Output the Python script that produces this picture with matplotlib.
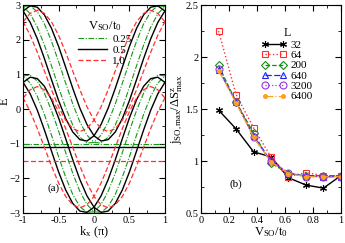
import matplotlib
matplotlib.use("Agg")
import matplotlib.pyplot as plt
import numpy as np

plt.rcParams['font.family'] = ['Liberation Serif', 'DejaVu Serif']
plt.rcParams['mathtext.fontset'] = 'custom'
plt.rcParams['mathtext.rm'] = 'Liberation Serif'
plt.rcParams['mathtext.it'] = 'Liberation Serif'

# ---- panel (a): bands, read at k = -1 ... 1 step 0.1 (branch with minimum at k > 0)
k = [-1.0, -0.9, -0.8, -0.7, -0.6, -0.5, -0.4, -0.3, -0.2, -0.1, 0.0,
     0.1, 0.2, 0.3, 0.4, 0.5, 0.6, 0.7, 0.8, 0.9, 1.0]

vso_labels = ['0.25', '0.5', '1.0']
band_up_025 = [2.96, 2.98, 2.81, 2.46, 1.96, 1.37, 0.75, 0.15, -0.37, -0.75, -0.96,
               -0.98, -0.81, -0.46, 0.04, 0.63, 1.25, 1.85, 2.37, 2.75, 2.96]
band_lo_025 = [0.96, 0.98, 0.81, 0.46, -0.04, -0.63, -1.25, -1.85, -2.37, -2.75, -2.96,
               -2.98, -2.81, -2.46, -1.96, -1.37, -0.75, -0.15, 0.37, 0.75, 0.96]
band_up_05 = [2.83, 2.98, 2.94, 2.72, 2.33, 1.81, 1.21, 0.60, 0.03, -0.44, -0.77,
              -0.92, -0.88, -0.66, -0.27, 0.25, 0.85, 1.46, 2.03, 2.50, 2.83]
band_lo_05 = [0.77, 0.92, 0.88, 0.66, 0.27, -0.25, -0.85, -1.46, -2.03, -2.50, -2.83,
              -2.98, -2.94, -2.72, -2.33, -1.81, -1.21, -0.60, -0.03, 0.44, 0.77]
band_up_10 = [2.52, 2.76, 2.85, 2.76, 2.52, 2.13, 1.64, 1.10, 0.56, 0.07, -0.32,
              -0.56, -0.65, -0.56, -0.32, 0.07, 0.56, 1.10, 1.64, 2.13, 2.52]
band_lo_10 = [0.32, 0.56, 0.65, 0.56, 0.32, -0.07, -0.56, -1.10, -1.64, -2.13, -2.52,
              -2.76, -2.85, -2.76, -2.52, -2.13, -1.64, -1.10, -0.56, -0.07, 0.32]
mu_levels = [-1.0, -1.1, -1.5]

# ---- panel (b)
vso = [0.125, 0.25, 0.375, 0.5, 0.625, 0.75, 0.875, 1.0]
sizes = ['32', '64', '200', '640', '3200', '6400']
j_32 = [1.49, 1.31, 1.09, 1.04, 0.84, 0.77, 0.74, 0.86]
j_64 = [2.25, 1.64, 1.32, 1.04, 0.85, 0.89, 0.86, 0.86]
j_200 = [1.92, 1.57, 1.27, 0.98, 0.88, 0.86, 0.86, 0.86]
j_640 = [1.88, 1.57, 1.24, 1.00, 0.88, 0.86, 0.85, 0.85]
j_3200 = [1.89, 1.57, 1.23, 1.00, 0.89, 0.85, 0.85, 0.85]
j_6400 = [1.87, 1.56, 1.23, 0.99, 0.88, 0.85, 0.85, 0.85]

fig = plt.figure(figsize=(3.45, 2.43), dpi=100)
ax1 = fig.add_axes([0.067, 0.123, 0.411, 0.856])
ax2 = fig.add_axes([0.583, 0.123, 0.405, 0.856])

band_sets = [(band_up_025, band_lo_025), (band_up_05, band_lo_05), (band_up_10, band_lo_10)]
styles = [dict(color='#119911', ls=(0, (5, 1.5, 1, 1.5)), lw=0.8),
          dict(color='black', ls='-', lw=1.0),
          dict(color='#ff3030', ls=(0, (4, 2)), lw=0.9)]

kk = np.array(k)
for (up, lo), st, lab, mu in zip(band_sets, styles, vso_labels, mu_levels):
    for b in (up, lo):
        ax1.plot(kk, b, **st)
        ax1.plot(-kk, b, **st)
    ax1.axhline(mu, **st)
    ax1.plot([], [], label=lab, **st)

ax1.set_xlim(-1, 1)
ax1.set_ylim(-3, 3)
ax1.set_xticks([-1, -0.5, 0, 0.5, 1])
ax1.set_xticklabels(['-1', '-0.5', '0', '0.5', '1'])
ax1.set_yticks([-3, -2, -1, 0, 1, 2, 3])
ax1.set_xticks(np.arange(-1, 1.01, 0.25), minor=True)
ax1.set_yticks(np.arange(-3, 3.01, 0.5), minor=True)
ax1.set_xlabel(r'k$_{\mathrm{x}}$ ($\pi$)', fontsize=9, labelpad=0)
ax1.set_ylabel('E', fontsize=9)
ax1.yaxis.set_label_coords(-0.085, 0.54)
ax1.text(-0.65, -2.35, '(a)', fontsize=8)
ax1.legend(loc='upper left', bbox_to_anchor=(0.33, 0.97), frameon=False,
           fontsize=8, title=r'V$_{\mathrm{SO}}$/t$_0$', title_fontsize=9,
           handlelength=2.6, labelspacing=0.1, borderpad=0.2, handletextpad=0.5)

series = [j_32, j_64, j_200, j_640, j_3200, j_6400]
mstyles = [dict(color='black', ls='-', marker=(6, 2, 0), ms=5, mfc='black', lw=1.0),
           dict(color='#ff3030', ls=':', marker='s', ms=5, mfc='none', lw=1.0),
           dict(color='#109010', ls='--', marker='D', ms=4.5, mfc='none', lw=0.9),
           dict(color='#2020ff', ls=(0, (5, 2)), marker='^', ms=5, mfc='none', lw=0.9),
           dict(color='#9933dd', ls=':', marker='o', ms=5, mfc='none', lw=0.9),
           dict(color='#ffa020', ls='-.', marker='o', ms=2.8, mfc='#ffa020', lw=0.9)]
for y, st, lab in zip(series, mstyles, sizes):
    ax2.plot(vso, y, label=lab, mew=0.8, **st)

ax2.set_xlim(0, 1)
ax2.set_ylim(0.5, 2.5)
ax2.set_xticks([0, 0.2, 0.4, 0.6, 0.8, 1])
ax2.set_xticklabels(['0', '0.2', '0.4', '0.6', '0.8', '1'])
ax2.set_yticks([0.5, 1, 1.5, 2, 2.5])
ax2.set_yticklabels(['0.5', '1', '1.5', '2', '2.5'])
ax2.set_xticks(np.arange(0, 1.01, 0.1), minor=True)
ax2.set_yticks(np.arange(0.5, 2.51, 0.25), minor=True)
ax2.set_xlabel(r'V$_{\mathrm{SO}}$/t$_0$', fontsize=9, labelpad=0)
ax2.set_ylabel(r'j$_{\mathrm{SO,max}}$/$\Delta$S$^{\mathrm{z}}_{\mathrm{max}}$', fontsize=9, labelpad=1)
ax2.text(0.2, 0.75, '(b)', fontsize=8)
ax2.legend(loc='upper left', bbox_to_anchor=(0.38, 0.93), frameon=False, fontsize=8,
           title='L', title_fontsize=8.5, handlelength=2.2, labelspacing=0.05,
           borderpad=0.2, handletextpad=0.4, numpoints=2)

for ax in (ax1, ax2):
    ax.tick_params(which='both', direction='in', top=True, right=True, labelsize=7.5, pad=2)
    ax.tick_params(which='major', length=4)
    ax.tick_params(which='minor', length=2)

fig.savefig('out.png', dpi=100)
